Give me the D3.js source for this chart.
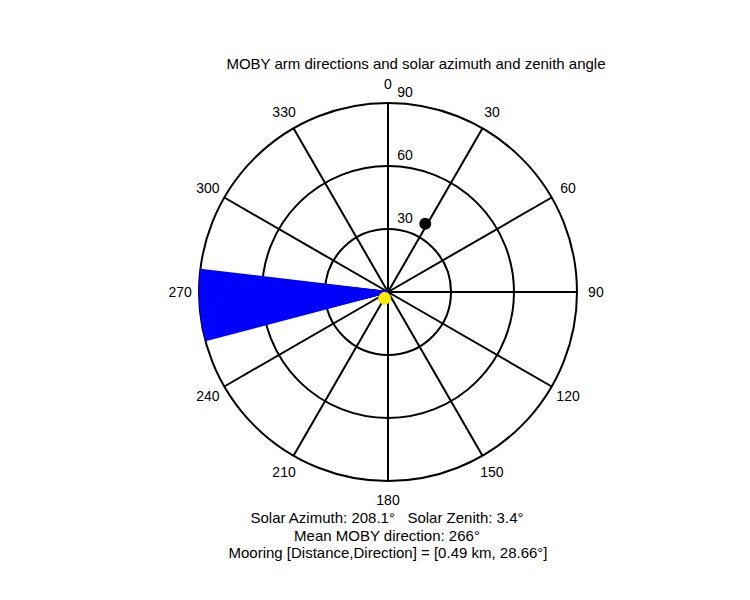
<!DOCTYPE html><html><head><script src="https://cdn.jsdelivr.net/npm/d3@7"></script>
<style>body{margin:0;background:#fff}text{font-family:"Liberation Sans",Arial,sans-serif;font-size:14px}</style></head><body>
<script>
const rings=[30,60,90];
const spokes=[0,30,60,90,120,150,180,210,240,270,300,330];
const armDirs=[255.2,255.6,256,256.4,256.8,257.2,257.6,258,258.4,258.8,259.2,259.6,260,260.4,260.8,261.2,261.6,262,262.4,262.8,263.2,263.6,264,264.4,264.8,265.2,265.6,266,266.4,266.8,267.2,267.6,268,268.4,268.8,269.2,269.6,270,270.4,270.8,271.2,271.6,272,272.4,272.8,273.2,273.6,274,274.4,274.8,275.2,275.6,276,276.4,276.8];
const sun={az:208.1,zen:3.4};
const mooring={dir:28.66,r:37};
const title="MOBY arm directions and solar azimuth and zenith angle";
const footer=["Solar Azimuth: 208.1\u00b0   Solar Zenith: 3.4\u00b0","Mean MOBY direction: 266\u00b0","Mooring [Distance,Direction] = [0.49 km, 28.66\u00b0]"];
const cx=388,cy=292;
const r=d3.scaleLinear().domain([0,90]).range([0,189]);
const P=(a,v)=>[cx+r(v)*Math.sin(a*Math.PI/180),cy-r(v)*Math.cos(a*Math.PI/180)];
const svg=d3.select("body").append("svg").attr("width",750).attr("height",600);
svg.selectAll(".ring").data(rings).enter().append("circle").attr("cx",cx).attr("cy",cy).attr("r",d=>r(d)).attr("fill","none").attr("stroke","#000").attr("stroke-width",2);
svg.selectAll(".sp").data(spokes).enter().append("line").attr("x1",cx).attr("y1",cy)
 .attr("x2",d=>P(d,90)[0]).attr("y2",d=>P(d,90)[1]).attr("stroke","#000").attr("stroke-width",2);
svg.selectAll(".arm").data(armDirs).enter().append("line").attr("x1",cx).attr("y1",cy)
 .attr("x2",d=>P(d,90)[0]).attr("y2",d=>P(d,90)[1]).attr("stroke","#0000ff").attr("stroke-width",2);
svg.selectAll(".al").data(spokes).enter().append("text").attr("x",d=>P(d,99)[0]).attr("y",d=>P(d,99)[1]+5).attr("text-anchor","middle").text(d=>d);
svg.selectAll(".rl").data(rings).enter().append("text").attr("x",cx+17).attr("y",d=>cy-r(d)-6).attr("text-anchor","middle").text(d=>d);
const m=P(mooring.dir,mooring.r);
svg.append("circle").attr("cx",m[0]).attr("cy",m[1]).attr("r",6).attr("fill","#000");
const s=P(sun.az,sun.zen);
svg.append("circle").attr("cx",s[0]).attr("cy",s[1]).attr("r",6).attr("fill","#ffee00").attr("stroke","#ffd000");
svg.append("text").attr("x",416).attr("y",69).attr("text-anchor","middle").style("font-size","15px").text(title);
svg.selectAll(".ft").data(footer).enter().append("text").attr("xml:space","preserve").style("white-space","pre").style("font-size","15px").attr("x",(d,i)=>[387,387,388][i]).attr("y",(d,i)=>523+i*17.5).attr("text-anchor","middle").text(d=>d);
</script></body></html>
